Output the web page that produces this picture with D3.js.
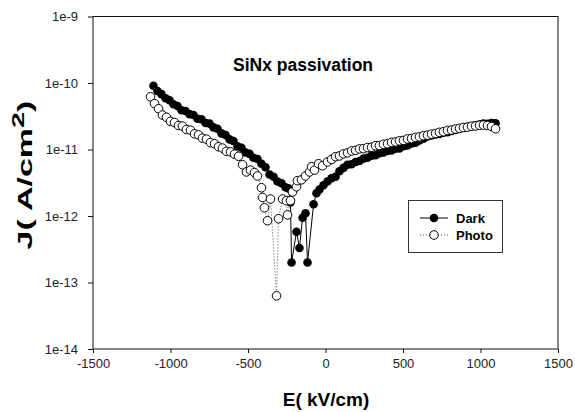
<!DOCTYPE html>
<html>
<head>
<meta charset="utf-8">
<title>SiNx passivation</title>
<style>
body { margin:0; background:#fff; }
text { font-family: "Liberation Sans", Arial, sans-serif; }
</style>
</head>
<body>
<script src="https://cdn.jsdelivr.net/npm/d3@7"></script>
<script>

// data
var darkE = [-1110,-1084,-1058,-1032,-1006,-981,-955,-929,-903,-877,-852,-826,-800,-774,-748,-723,-697,-671,-645,-619,-594,-568,-542,-516,-490,-465,-439,-413,-387,-361,-335,-310,-284,-258,-239,
  -226,-219,-187,-168,-148,-129,-116,-77,-58,
  -39,-13,13,39,65,90,116,142,168,194,219,245,271,297,323,348,374,400,426,452,477,503,529,555,581,606,632,658,684,710,735,761,787,813,839,865,890,916,942,968,994,1019,1045,1071,1097];
var darkJ = [9.1e-11,7.6e-11,6.8e-11,5.9e-11,5.5e-11,4.8e-11,4.5e-11,3.9e-11,3.8e-11,3.4e-11,3.3e-11,2.9e-11,2.85e-11,2.5e-11,2.45e-11,2.15e-11,2.05e-11,1.75e-11,1.65e-11,1.42e-11,1.34e-11,1.12e-11,1.06e-11,9.0e-12,8.6e-12,7.5e-12,7.2e-12,6.1e-12,5.4e-12,4.2e-12,3.9e-12,3.3e-12,3.1e-12,2.7e-12,2.6e-12,
  1.6e-12,2.0e-13,5.8e-13,3.3e-13,9.4e-13,1.1e-12,2.0e-13,1.5e-12,2.2e-12,
  2.5e-12,2.9e-12,3.3e-12,3.7e-12,3.9e-12,4.7e-12,5.3e-12,5.9e-12,6.0e-12,6.5e-12,6.7e-12,7.3e-12,7.5e-12,8.1e-12,8.2e-12,8.8e-12,9.0e-12,9.5e-12,9.7e-12,1.03e-11,1.04e-11,1.12e-11,1.15e-11,1.23e-11,1.27e-11,1.37e-11,1.45e-11,1.57e-11,1.63e-11,1.69e-11,1.72e-11,1.79e-11,1.82e-11,1.9e-11,1.96e-11,2.07e-11,2.12e-11,2.2e-11,2.24e-11,2.32e-11,2.37e-11,2.46e-11,2.44e-11,2.5e-11,2.48e-11];

var photoE = [-1129,-1103,-1077,-1052,-1026,-1000,-974,-948,-923,-897,-871,-845,-819,-794,-768,-742,-716,-690,-665,-639,-613,-587,-561,-535,-510,-484,-458,-439,
  -413,-406,-394,-374,-355,-316,-303,-277,-252,-245,-226,-213,-187,-181,-155,-129,-103,-90,-71,-45,-19,13,
  39,65,90,116,142,168,194,219,245,271,297,323,348,374,400,426,452,477,503,529,555,581,606,632,658,684,710,735,761,787,813,839,865,890,916,942,968,994,1019,1045,1071,1097];
var photoJ = [6.2e-11,4.9e-11,4.1e-11,3.3e-11,3.05e-11,2.65e-11,2.55e-11,2.3e-11,2.25e-11,2.0e-11,1.95e-11,1.72e-11,1.66e-11,1.48e-11,1.43e-11,1.27e-11,1.22e-11,1.1e-11,1.05e-11,9.4e-12,9.2e-12,8.5e-12,7.9e-12,5.9e-12,4.6e-12,4.9e-12,4.5e-12,4.0e-12,
  2.66e-12,1.9e-12,1.33e-12,8.5e-13,1.8e-12,6.3e-14,9.1e-13,1.8e-12,1.7e-12,1.04e-12,1.7e-12,2.3e-12,2.75e-12,3.4e-12,3.5e-12,4.0e-12,4.6e-12,5.5e-12,4.9e-12,6.1e-12,5.7e-12,6.5e-12,
  7.1e-12,7.8e-12,8.0e-12,8.6e-12,8.9e-12,9.5e-12,9.7e-12,1.02e-11,1.03e-11,1.07e-11,1.08e-11,1.14e-11,1.15e-11,1.2e-11,1.22e-11,1.28e-11,1.3e-11,1.35e-11,1.37e-11,1.44e-11,1.46e-11,1.52e-11,1.55e-11,1.61e-11,1.64e-11,1.7e-11,1.74e-11,1.81e-11,1.85e-11,1.93e-11,1.96e-11,2.03e-11,2.08e-11,2.14e-11,2.17e-11,2.24e-11,2.26e-11,2.32e-11,2.33e-11,2.3e-11,2.22e-11,2.05e-11];

var xTicks = [-1500,-1000,-500,0,500,1000,1500];
var yTicks = [1e-14,1e-13,1e-12,1e-11,1e-10,1e-9];
var yTickLabels = ["1e-14","1e-13","1e-12","1e-11","1e-10","1e-9"];

var w = 575, h = 412;
var pl = 93, pr = 558, pt = 16.5, pb = 349;

var svg = d3.select("body").append("svg").attr("width", w).attr("height", h);

var x = d3.scaleLinear().domain([-1500, 1500]).range([pl, pr]);
var y = d3.scaleLog().domain([1e-14, 1e-9]).range([pb, pt]);

// frame
svg.append("rect")
  .attr("x", pl).attr("y", pt)
  .attr("width", pr - pl).attr("height", pb - pt)
  .attr("fill", "none").attr("stroke", "#111").attr("stroke-width", 1);

var xAxis = svg.append("g")
  .attr("transform", "translate(0," + pb + ")")
  .call(d3.axisBottom(x).tickValues(xTicks).tickSize(4).tickPadding(6)
    .tickFormat(function(d){ return String(d); }));
var yAxis = svg.append("g")
  .attr("transform", "translate(" + pl + ",0)")
  .call(d3.axisLeft(y).tickValues(yTicks).tickSize(5).tickPadding(10)
    .tickFormat(function(d, i){ return yTickLabels[i]; }));

[xAxis, yAxis].forEach(function(a){
  a.select(".domain").remove();
  a.selectAll("line").attr("stroke", "#111");
  a.selectAll("text").attr("font-size", "13px").attr("fill", "#222")
    .attr("font-family", "'Liberation Sans', Arial, sans-serif");
});

// lines
var dark = darkE.map(function(e, i){ return {e:e, j:darkJ[i]}; });
var photo = photoE.map(function(e, i){ return {e:e, j:photoJ[i]}; });

var line = d3.line().x(function(d){ return x(d.e); }).y(function(d){ return y(d.j); });

svg.append("path").datum(dark).attr("d", line)
  .attr("fill", "none").attr("stroke", "#000").attr("stroke-width", 1);
svg.append("path").datum(photo).attr("d", line)
  .attr("fill", "none").attr("stroke", "#555").attr("stroke-width", 1).attr("stroke-dasharray", "1,2");

svg.append("g").selectAll("circle").data(dark).enter().append("circle")
  .attr("cx", function(d){ return x(d.e); })
  .attr("cy", function(d){ return y(d.j); })
  .attr("r", 4.3).attr("fill", "#000");

svg.append("g").selectAll("circle").data(photo).enter().append("circle")
  .attr("cx", function(d){ return x(d.e); })
  .attr("cy", function(d){ return y(d.j); })
  .attr("r", 4.3).attr("fill", "#fff").attr("stroke", "#000").attr("stroke-width", 1);

// title
svg.append("text").attr("x", 233).attr("y", 71)
  .attr("font-size", "17.5px").attr("font-weight", "bold").text("SiNx passivation");

// legend
var lg = svg.append("g");
lg.append("rect").attr("x", 408.5).attr("y", 200.5).attr("width", 94).attr("height", 52)
  .attr("fill", "#fff").attr("stroke", "#333").attr("stroke-width", 1);
lg.append("line").attr("x1", 420).attr("x2", 448).attr("y1", 218).attr("y2", 218)
  .attr("stroke", "#000");
lg.append("circle").attr("cx", 434).attr("cy", 218).attr("r", 4.3).attr("fill", "#000");
lg.append("line").attr("x1", 420).attr("x2", 448).attr("y1", 235).attr("y2", 235)
  .attr("stroke", "#555").attr("stroke-dasharray", "1,2");
lg.append("circle").attr("cx", 434).attr("cy", 235).attr("r", 4.3)
  .attr("fill", "#fff").attr("stroke", "#000");
lg.append("text").attr("x", 456).attr("y", 222.5).attr("font-size", "13px")
  .attr("font-weight", "bold").text("Dark");
lg.append("text").attr("x", 456).attr("y", 239.5).attr("font-size", "13px")
  .attr("font-weight", "bold").text("Photo");

// axis titles
svg.append("text").attr("x", 326).attr("y", 406).attr("text-anchor", "middle")
  .attr("font-size", "19px").attr("font-weight", "bold").text("E( kV/cm)");

// y title is drawn stretched along its length, like the reference
var yl = svg.append("text").attr("transform", "translate(32,175) rotate(-90) scale(1.7,1)")
  .attr("text-anchor", "middle").attr("font-size", "20px").attr("font-weight", "bold");
yl.append("tspan").text("J( A/cm");
yl.append("tspan").attr("dy", -8).attr("font-size", "17px").text("2");
yl.append("tspan").attr("dy", 8).text(")");

</script>
</body>
</html>
